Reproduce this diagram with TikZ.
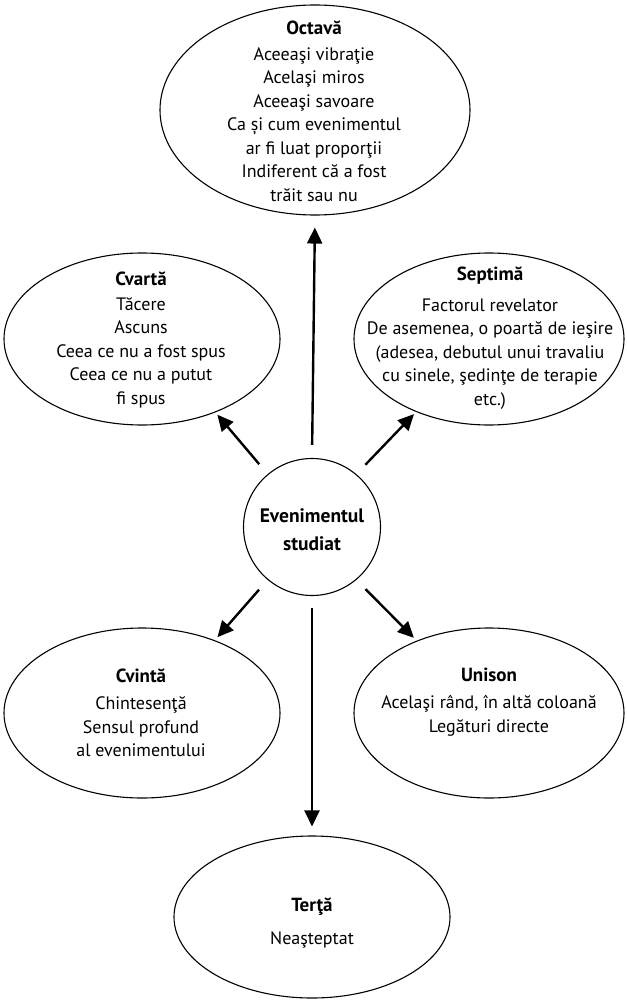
\documentclass[tikz,border=0pt]{standalone}
\usepackage{fontspec}
\setmainfont{PT Sans}
\usetikzlibrary{shapes.geometric,arrows.meta}
\newcommand{\ttl}[1]{{\fontsize{19}{23.5}\selectfont\bfseries #1}}
\begin{document}
\begin{tikzpicture}[x=1pt,y=-1pt,
  oval/.style={draw, ellipse, line width=1.1pt, inner sep=0pt},
  hub/.style={draw, circle, line width=1.1pt, minimum size=137pt, inner sep=0pt},
  txt/.style={align=center, inner sep=0pt, font=\fontsize{18}{23.5}\selectfont},
  hubtxt/.style={align=center, inner sep=0pt, font=\fontsize{19.5}{28}\selectfont\bfseries},
  arr/.style={line width=2.4pt, -{Triangle[length=16pt,width=15pt]}}
]
\useasboundingbox (0,0) rectangle (626,1003);
\fill[white] (0,0) rectangle (626,1003);

% shapes
\node[oval, minimum width=310pt, minimum height=210pt] (oct) at (315,110) {};
\node[oval, minimum width=276pt, minimum height=172pt] (cva) at (142,339) {};
\node[oval, minimum width=270pt, minimum height=172pt] (sep) at (489,339) {};
\node[hub] (c) at (312,527) {};
\node[oval, minimum width=276pt, minimum height=170pt] (cvi) at (142,713) {};
\node[oval, minimum width=270pt, minimum height=170pt] (uni) at (489,713) {};
\node[oval, minimum width=276pt, minimum height=162pt] (ter) at (312,917) {};

% texts
\node[txt] (toct) at (314,111) {\ttl{Octavă}\\[2.5pt]Aceeaşi vibraţie\\Acelaşi miros\\Aceeaşi savoare\\Ca și cum evenimentul\\ar fi luat proporţii\\Indiferent că a fost\\trăit sau nu};
\node[txt] (tcva) at (141,340) {\ttl{Cvartă}\\[1pt]Tăcere\\Ascuns\\Ceea ce nu a fost spus\\Ceea ce nu a putut\\fi spus};
\node[txt] (tsep) at (490,338) {\ttl{Septimă}\\[7pt]Factorul revelator\\De asemenea, o poartă de ieşire\\(adesea, debutul unui travaliu\\cu sinele, şedinţe de terapie\\etc.)};
\node[hubtxt] (tc) at (312,530) {Evenimentul\\studiat};
\node[txt] (tcvi) at (141,713) {\ttl{Cvintă}\\[4pt]Chintesenţă\\Sensul profund\\al evenimentului};
\node[txt] (tuni) at (489,702) {\ttl{Unison}\\[4pt]Acelaşi rând, în altă coloană\\Legături directe};
\node[txt] (tter) at (312,923) {\ttl{Terţă}\\[9pt]Neaşteptat};

% connectors
\draw[arr, shorten <=13pt, shorten >=12pt] (c.north) -- (oct.south);
\draw[arr, shorten <=13pt, shorten >=3pt] (c.130) -- (cva.-45);
\draw[arr, shorten <=13pt, shorten >=3pt] (c.50) -- (sep.-135);
\draw[arr, shorten <=13pt, shorten >=4pt] (c.230) -- (cvi.45);
\draw[arr, shorten <=13pt, shorten >=4pt] (c.-50) -- (uni.135);
\draw[arr, shorten <=12pt, shorten >=9pt] (c.south) -- (ter.north);
\end{tikzpicture}
\end{document}
